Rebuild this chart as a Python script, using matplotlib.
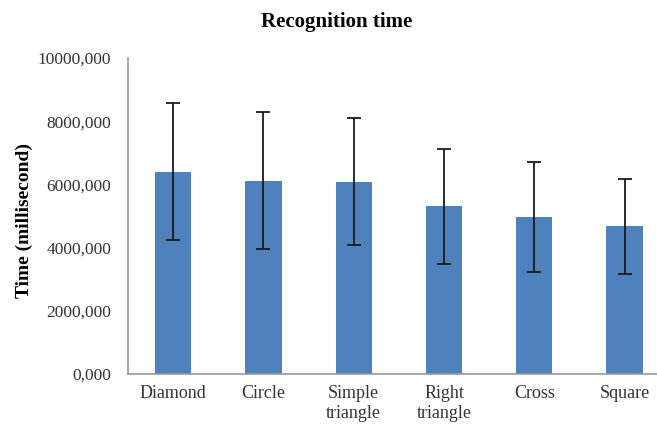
import matplotlib.pyplot as plt
import numpy as np

# Values (milliseconds)
shapes = ["Diamond", "Circle", "Simple\ntriangle", "Right\ntriangle", "Cross", "Square"]
mean_time = [6400, 6120, 6080, 5300, 4960, 4670]
sd_time = [2170, 2180, 2010, 1820, 1745, 1515]
y_ticks = [0, 2000, 4000, 6000, 8000, 10000]
y_tick_labels = ["0,000", "2000,000", "4000,000", "6000,000", "8000,000", "10000,000"]

plt.rcParams["font.family"] = ["Liberation Serif", "DejaVu Serif"]

fig = plt.figure(figsize=(6.57, 4.26), dpi=100)
ax = fig.add_axes([0.195, 0.122, 0.805, 0.742])

x = np.arange(len(shapes))
ax.bar(x, mean_time, width=0.4, color="#4F81BD", zorder=2)
ax.errorbar(x, mean_time, yerr=sd_time, fmt="none", ecolor="#1a1a1a",
            elinewidth=1.3, capsize=5, capthick=1.3, zorder=3)

ax.set_xlim(-0.5, 5.36)
ax.set_ylim(0, 10000)
ax.set_yticks(y_ticks)
ax.set_yticklabels(y_tick_labels, fontsize=12.5)
ax.set_xticks(x)
ax.set_xticklabels(shapes, linespacing=1.2, fontsize=13)
ax.tick_params(axis="both", length=0, colors="#333333")
ax.tick_params(axis="y", pad=12)
ax.tick_params(axis="x", pad=8)

for side in ["top", "right"]:
    ax.spines[side].set_visible(False)
for side in ["left", "bottom"]:
    ax.spines[side].set_color("#999999")
    ax.spines[side].set_linewidth(1.2)

fig.text(24 / 657, 0.482, "Time (millisecond)", rotation=90, ha="center", va="center",
         fontsize=14, fontweight="bold")
fig.text(0.513, 0.948, "Recognition time", ha="center", va="center",
         fontsize=15, fontweight="bold")

plt.savefig("out.png", dpi=100)
